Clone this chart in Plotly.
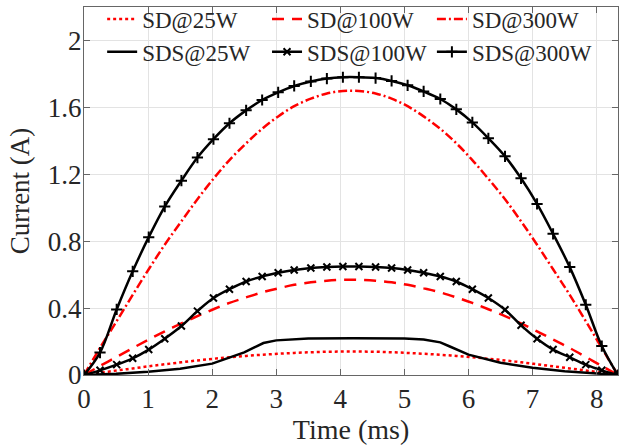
import plotly.graph_objects as go

# time base (ms), one half cycle
t = [0, 0.25, 0.51, 0.76, 1.01, 1.26, 1.52, 1.77, 2.02, 2.27, 2.53, 2.78,
     3.03, 3.28, 3.54, 3.79, 4.04, 4.29, 4.55, 4.80, 5.05, 5.30, 5.56, 5.81,
     6.06, 6.31, 6.57, 6.82, 7.07, 7.32, 7.58, 7.83, 8.08, 8.33]

sd_25 = [0, 0.013, 0.027, 0.039, 0.052, 0.064, 0.076, 0.087, 0.097, 0.106, 0.114, 0.121,
         0.127, 0.132, 0.136, 0.139, 0.140, 0.140, 0.139, 0.136, 0.132, 0.127, 0.121, 0.114,
         0.106, 0.097, 0.087, 0.076, 0.064, 0.052, 0.039, 0.027, 0.013, 0]
sd_100 = [0, 0.054, 0.108, 0.161, 0.212, 0.261, 0.308, 0.352, 0.393, 0.431, 0.464, 0.494,
          0.518, 0.539, 0.554, 0.564, 0.569, 0.569, 0.564, 0.554, 0.539, 0.518, 0.494, 0.464,
          0.431, 0.393, 0.352, 0.308, 0.261, 0.212, 0.161, 0.108, 0.054, 0]
sd_300 = [0, 0.162, 0.322, 0.479, 0.632, 0.779, 0.919, 1.051, 1.173, 1.285, 1.385, 1.472,
          1.546, 1.607, 1.652, 1.683, 1.698, 1.698, 1.683, 1.652, 1.607, 1.546, 1.472, 1.385,
          1.285, 1.173, 1.051, 0.919, 0.779, 0.632, 0.479, 0.322, 0.162, 0]

sds_100 = [0, 0.028, 0.062, 0.10, 0.152, 0.217, 0.293, 0.382, 0.46, 0.513, 0.559, 0.589,
           0.611, 0.628, 0.64, 0.646, 0.649, 0.649, 0.646, 0.64, 0.628, 0.611, 0.589, 0.559,
           0.513, 0.46, 0.39, 0.297, 0.217, 0.152, 0.106, 0.062, 0.028, 0]
sds_300 = [0, 0.134, 0.392, 0.62, 0.824, 1.007, 1.162, 1.30, 1.41, 1.505, 1.582, 1.644,
           1.69, 1.728, 1.755, 1.772, 1.78, 1.78, 1.775, 1.758, 1.732, 1.695, 1.65, 1.588,
           1.51, 1.415, 1.307, 1.176, 1.023, 0.844, 0.645, 0.42, 0.173, 0]

# SDS@25W has its own time base (kinks near 2.8 ms and 5.6 ms)
t_25 = [0, 0.5, 1.0, 1.5, 2.0, 2.3, 2.5, 2.65, 2.8, 3.0, 3.5, 4.2, 5.0, 5.3, 5.56,
        5.7, 5.85, 6.0, 6.5, 7.0, 7.5, 8.0, 8.33]
sds_25 = [0, 0.007, 0.019, 0.038, 0.068, 0.107, 0.135, 0.163, 0.191, 0.207, 0.218, 0.22,
          0.218, 0.212, 0.195, 0.172, 0.145, 0.122, 0.073, 0.044, 0.023, 0.009, 0]

font = '"Liberation Serif", "Times New Roman", serif'
red = "#ff0000"

fig = go.Figure()
fig.add_trace(go.Scatter(name="SD@25W", x=t, y=sd_25, mode="lines", line_shape="spline",
                         line=dict(color=red, width=2.5, dash="3px,3px")))
fig.add_trace(go.Scatter(name="SD@100W", x=t, y=sd_100, mode="lines", line_shape="spline",
                         line=dict(color=red, width=2.5, dash="12px,8px")))
fig.add_trace(go.Scatter(name="SD@300W", x=t, y=sd_300, mode="lines", line_shape="spline",
                         line=dict(color=red, width=2.5, dash="9px,3px,2px,3px")))
fig.add_trace(go.Scatter(name="SDS@25W", x=t_25, y=sds_25, mode="lines",
                         line=dict(color="black", width=2.5)))
fig.add_trace(go.Scatter(name="SDS@100W", x=t, y=sds_100, mode="lines+markers", line_shape="spline",
                         line=dict(color="black", width=2.5),
                         marker=dict(symbol="x-thin", size=7, line=dict(color="black", width=2))))
fig.add_trace(go.Scatter(name="SDS@300W", x=t, y=sds_300, mode="lines+markers", line_shape="spline",
                         line=dict(color="black", width=2.5),
                         marker=dict(symbol="cross-thin", size=8, line=dict(color="black", width=2))))

axis_common = dict(showgrid=True, gridcolor="#e3e3e3", gridwidth=1, automargin=False,
                   showline=True, linecolor="#666666", linewidth=1, mirror="ticks",
                   ticks="inside", ticklen=6, tickcolor="#666666",
                   zeroline=False, tickfont=dict(family=font, size=27, color="#262626"))

fig.update_layout(
    width=630, height=447,
    margin=dict(l=84, r=12, t=7, b=72, autoexpand=False),
    paper_bgcolor="white", plot_bgcolor="white",
    font=dict(family=font, color="#262626"),
    xaxis=dict(range=[0, 8.333], tickvals=[0, 1, 2, 3, 4, 5, 6, 7, 8],
               ticklabelstandoff=0,
               title=dict(text="Time (ms)", font=dict(family=font, size=28), standoff=0),
               **axis_common),
    yaxis=dict(range=[0, 2.2], tickvals=[0, 0.4, 0.8, 1.2, 1.6, 2.0],
               ticktext=["0", "0.4", "0.8", "1.2", "1.6", "2"],
               ticklabelstandoff=-4,
               title=dict(text="Current (A)", font=dict(family=font, size=27), standoff=10),
               **axis_common),
    legend=dict(orientation="h", x=0.034, xanchor="left", y=1.026, yanchor="top",
                bgcolor="rgba(0,0,0,0)", font=dict(family=font, size=23, color="#262626"),
                tracegroupgap=0),
    showlegend=True,
)

# drop the browser's default 8px body margin so the figure sits at the page corner
fig.write_html("out.html", config={"displayModeBar": False},
               post_script="document.body.style.margin='0px';")
